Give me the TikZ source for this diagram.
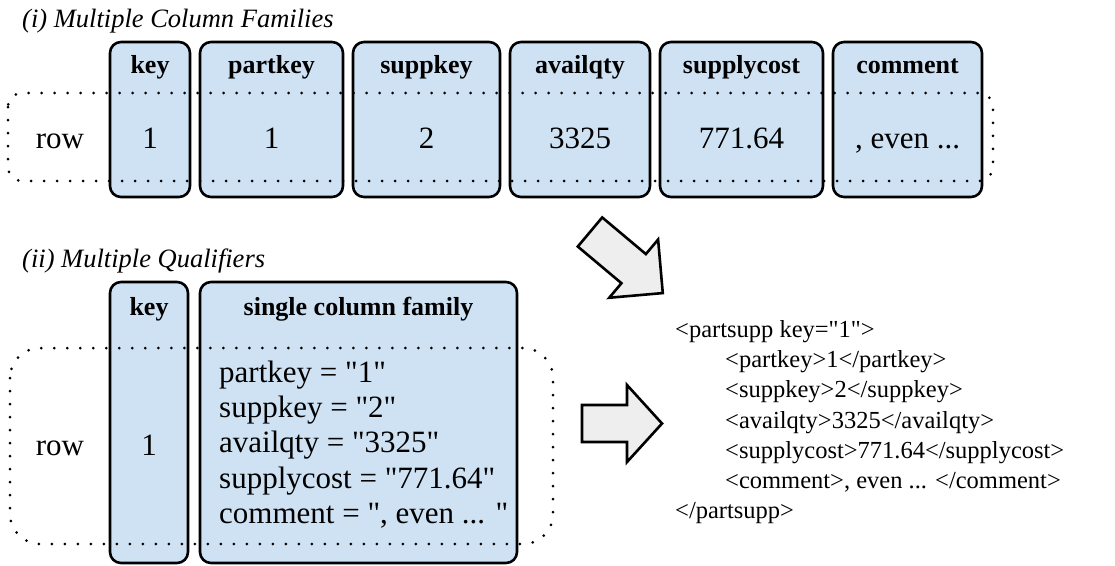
\documentclass[tikz,border=0pt]{standalone}
\usepackage{fontspec}
\setmainfont{Liberation Serif}
\definecolor{cellblue}{HTML}{CFE2F3}
\definecolor{arrowgray}{HTML}{EEEEEE}
\newcommand{\dquo}{\textquotedbl}
\begin{document}
\begin{tikzpicture}[x=1pt,y=-1pt,
  cell/.style={draw=black, fill=cellblue, line width=2.6pt, rounded corners=11pt,
               anchor=north west, outer sep=0pt, inner sep=0pt},
  head/.style={font=\fontsize{26}{30}\selectfont\bfseries, anchor=base, inner sep=0pt},
  val/.style={font=\fontsize{31}{34}\selectfont, anchor=base, inner sep=0pt},
  qual/.style={font=\fontsize{31}{34}\selectfont, anchor=base west, inner sep=0pt},
  xml/.style={font=\fontsize{24.5}{30}\selectfont, anchor=base west, inner sep=0pt},
  title/.style={font=\fontsize{26.5}{30}\selectfont\itshape, anchor=base west, inner sep=0pt},
  rowgroup/.style={line width=3pt, dash pattern=on 0pt off 13pt, line cap=round},
  blockarrow/.style={draw=black, fill=arrowgray, line width=2.6pt, line join=miter}]

\useasboundingbox (0,0) rectangle (1115,565);

% ---------- (i) one column family per attribute ----------
\node[title] (t1) at (22,27) {(i) Multiple Column Families};

\node[cell, minimum width=80pt,  minimum height=155pt] (ck) at (110,42) {};
\node[cell, minimum width=143pt, minimum height=155pt] (cp) at (200,42) {};
\node[cell, minimum width=147pt, minimum height=155pt] (cs) at (353,42) {};
\node[cell, minimum width=140pt, minimum height=155pt] (ca) at (510,42) {};
\node[cell, minimum width=163pt, minimum height=155pt] (cc) at (660,42) {};
\node[cell, minimum width=149pt, minimum height=155pt] (cm) at (833,42) {};

\node[head] (hk) at (150,73)   {key};
\node[head] (hp) at (271.5,73) {partkey};
\node[head] (hs) at (426.5,73) {suppkey};
\node[head] (ha) at (580,73)   {availqty};
\node[head] (hc) at (741.5,73) {supplycost};
\node[head] (hm) at (907.5,73) {comment};

\node[val] (r1) at (60,148)    {row};
\node[val] (vk) at (150,148)   {1};
\node[val] (vp) at (271.5,148) {1};
\node[val] (vs) at (426.5,148) {2};
\node[val] (va) at (580,148)   {3325};
\node[val] (vc) at (741.5,148) {771.64};
\node[val] (vm) at (907.5,148) {, even ...};

\draw[rowgroup, rounded corners=14pt] (8,93) rectangle (993,181);

% ---------- (ii) one column family, many qualifiers ----------
\node[title] (t2) at (22,267) {(ii) Multiple Qualifiers};

\node[cell, minimum width=78pt,  minimum height=281pt] (qk) at (110,282) {};
\node[cell, minimum width=317pt, minimum height=281pt] (qf) at (200,282) {};

\node[head] (qhk) at (149,315)   {key};
\node[head] (qhf) at (358.5,315) {single column family};

\node[val] (r2)  at (60,455)  {row};
\node[val] (qvk) at (149,455) {1};

\node[qual] (q1) at (219,382) {partkey = \dquo{}1\dquo};
\node[qual] (q2) at (219,417) {suppkey = \dquo{}2\dquo};
\node[qual] (q3) at (219,452) {availqty = \dquo{}3325\dquo};
\node[qual] (q4) at (219,488) {supplycost = \dquo{}771.64\dquo};
\node[qual] (q5) at (219,523) {comment = \dquo, even ... \dquo};

\draw[rowgroup, rounded corners=30pt] (10,348) rectangle (553,544);

% ---------- block arrows ----------
\begin{scope}[shift={(590,232)}, rotate=-40]
  \draw[blockarrow] (0,-19) -- (57,-19) -- (57,-38) -- (95,0) -- (57,38) -- (57,19) -- (0,19) -- cycle;
\end{scope}
\begin{scope}[shift={(582,423.5)}]
  \draw[blockarrow] (0,-18.5) -- (45,-18.5) -- (45,-38.5) -- (80,0) -- (45,38.5) -- (45,18.5) -- (0,18.5) -- cycle;
\end{scope}

% ---------- resulting XML ----------
\node[xml] (x0) at (675,337) {<partsupp key=\dquo{}1\dquo>};
\node[xml] (x1) at (725,367) {<partkey>1</partkey>};
\node[xml] (x2) at (725,397) {<suppkey>2</suppkey>};
\node[xml] (x3) at (725,428) {<availqty>3325</availqty>};
\node[xml] (x4) at (725,458) {<supplycost>771.64</supplycost>};
\node[xml] (x5) at (725,488) {<comment>, even ... </comment>};
\node[xml] (x6) at (675,518) {</partsupp>};

\end{tikzpicture}
\end{document}
